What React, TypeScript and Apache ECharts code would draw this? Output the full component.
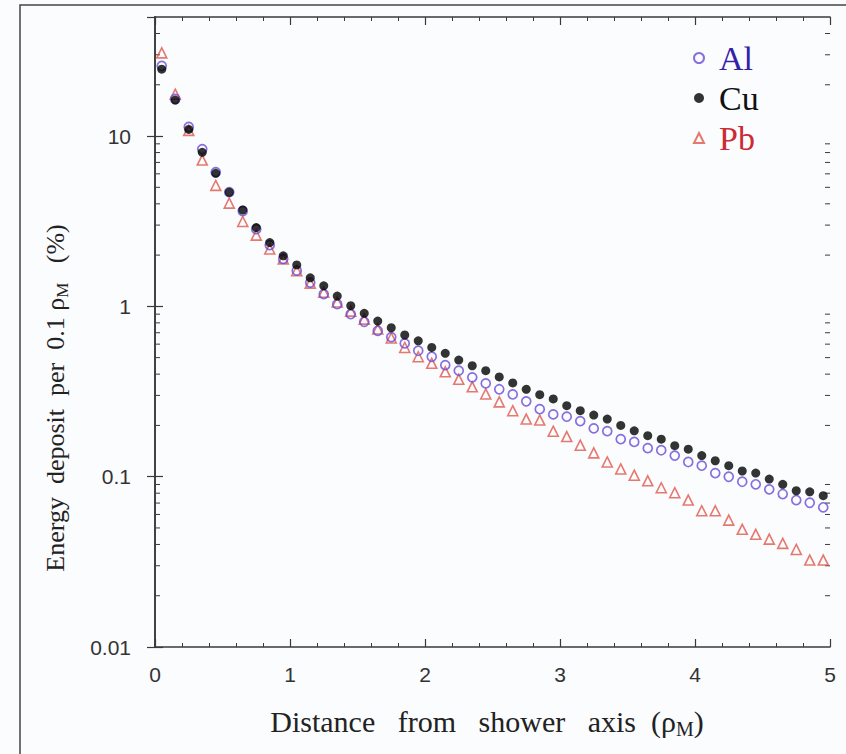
import React, { useEffect, useRef } from "react";
import * as echarts from "echarts";

// Bin centres (units of Moliere radius)
const distance = [
  0.05, 0.15, 0.25, 0.35, 0.45, 0.55, 0.65, 0.75, 0.85, 0.95,
  1.05, 1.15, 1.25, 1.35, 1.45, 1.55, 1.65, 1.75, 1.85, 1.95,
  2.05, 2.15, 2.25, 2.35, 2.45, 2.55, 2.65, 2.75, 2.85, 2.95,
  3.05, 3.15, 3.25, 3.35, 3.45, 3.55, 3.65, 3.75, 3.85, 3.95,
  4.05, 4.15, 4.25, 4.35, 4.45, 4.55, 4.65, 4.75, 4.85, 4.95,
];

const al = [
  25.8, 16.5, 11.3, 8.38, 6.14, 4.69, 3.63, 2.84, 2.29, 1.9,
  1.62, 1.38, 1.18, 1.03, 0.901, 0.812, 0.719, 0.66, 0.606, 0.549,
  0.506, 0.452, 0.419, 0.383, 0.353, 0.326, 0.304, 0.277, 0.249, 0.232,
  0.225, 0.212, 0.192, 0.185, 0.166, 0.16, 0.147, 0.143, 0.133, 0.122,
  0.116, 0.105, 0.0999, 0.0934, 0.0902, 0.0843, 0.0791, 0.0729, 0.0703, 0.0661,
];

const cu = [
  24.7, 16.26, 10.94, 8.02, 6.04, 4.67, 3.68, 2.9, 2.37, 1.98,
  1.75, 1.47, 1.32, 1.15, 1.01, 0.91, 0.82, 0.749, 0.679, 0.628,
  0.574, 0.53, 0.484, 0.448, 0.419, 0.385, 0.355, 0.326, 0.303, 0.286,
  0.261, 0.244, 0.23, 0.218, 0.2, 0.186, 0.174, 0.166, 0.152, 0.145,
  0.133, 0.124, 0.116, 0.108, 0.105, 0.0968, 0.0902, 0.0827, 0.0815, 0.0773,
];

const pb = [
  30.8, 17.6, 10.8, 7.23, 5.13, 4.04, 3.15, 2.62, 2.17, 1.9,
  1.62, 1.37, 1.21, 1.06, 0.938, 0.842, 0.736, 0.652, 0.574, 0.506,
  0.463, 0.413, 0.373, 0.337, 0.306, 0.275, 0.244, 0.218, 0.215, 0.185,
  0.172, 0.153, 0.138, 0.122, 0.111, 0.102, 0.0946, 0.0861, 0.0805, 0.0729,
  0.0631, 0.0631, 0.0556, 0.0491, 0.0459, 0.043, 0.0406, 0.0374, 0.0324, 0.0324,
];

// Minor tick positions of the logarithmic y axis
const yMinorTicks = [
  0.02, 0.03, 0.04, 0.05, 0.06, 0.07, 0.08, 0.09,
  0.2, 0.3, 0.4, 0.5, 0.6, 0.7, 0.8, 0.9,
  2, 3, 4, 5, 6, 7, 8, 9,
  20, 30, 40,
];

const SERIF = "'Liberation Serif', 'Times New Roman', serif";
const SANS = "'Liberation Sans', Arial, sans-serif";
const AXIS = "#3a3a3a";

export default function App() {
  const ref = useRef<HTMLDivElement>(null);

  useEffect(() => {
    if (!ref.current) return;
    const chart = echarts.init(ref.current, undefined, { renderer: "svg" });

    const pts = (vals: number[]) => distance.map((x, i) => [x, vals[i]]);

    const xCommon = {
      type: "value",
      min: 0,
      max: 5,
      interval: 1,
      splitLine: { show: false },
      axisLine: { show: true, lineStyle: { color: AXIS, width: 1.6 } },
      axisTick: { show: true, inside: true, length: 8, lineStyle: { color: AXIS, width: 1.2 } },
      minorTick: { show: true, splitNumber: 5, length: 4, lineStyle: { color: AXIS, width: 1 } },
    };

    const yCommon = {
      type: "log",
      logBase: 10,
      min: 0.01,
      max: 50,
      splitLine: { show: false },
      minorTick: { show: false },
      minorSplitLine: { show: false },
      axisTick: { show: true, inside: true, length: 8, lineStyle: { color: AXIS, width: 1.2 } },
    };

    chart.setOption({
      animation: false,
      backgroundColor: "#fbfcfe",
      grid: { left: 155, right: 16, top: 17, bottom: 107 },
      graphic: [
        {
          type: "rect",
          shape: { x: 20, y: 5, width: 900, height: 900 },
          style: { fill: "none", stroke: "#444", lineWidth: 1.5 },
          silent: true,
        },
        {
          type: "text",
          x: 55,
          y: 398,
          rotation: Math.PI / 2,
          style: {
            text: "Energy  deposit  per  0.1 {r|ρ}{s|M}   (%)",
            fontFamily: SERIF,
            fontSize: 26,
            lineHeight: 32,
            fill: "#222",
            align: "center",
            verticalAlign: "middle",
            rich: {
              r: { fontFamily: SERIF, fontSize: 26, lineHeight: 32, fill: "#222" },
              s: { fontFamily: SERIF, fontSize: 17, lineHeight: 17, verticalAlign: "bottom", fill: "#222" },
            },
          },
        },
        {
          type: "text",
          x: 487,
          y: 721,
          style: {
            text: "Distance   from   shower   axis  ({r|ρ}{s|M})",
            fontFamily: SERIF,
            fontSize: 30,
            lineHeight: 36,
            fill: "#222",
            align: "center",
            verticalAlign: "middle",
            rich: {
              r: { fontFamily: SERIF, fontSize: 30, lineHeight: 36, fill: "#222" },
              s: { fontFamily: SERIF, fontSize: 20, lineHeight: 20, verticalAlign: "bottom", fill: "#222" },
            },
          },
        },
      ],
      legend: {
        orient: "vertical",
        left: 688,
        top: 36,
        itemWidth: 10,
        itemHeight: 10,
        itemGap: 6,
        selectedMode: false,
        textStyle: { fontFamily: SERIF, fontSize: 34, lineHeight: 34, padding: [0, 0, 0, 10] },
        data: [
          { name: "Al", icon: "circle", textStyle: { color: "#3322a8" } },
          { name: "Cu", icon: "circle", textStyle: { color: "#111" } },
          { name: "Pb", icon: "triangle", textStyle: { color: "#cc2a35" } },
        ],
      },
      xAxis: [
        {
          ...xCommon,
          position: "bottom",
          axisLabel: { show: true, margin: 17, fontFamily: SANS, fontSize: 21, color: "#333" },
        },
        {
          ...xCommon,
          position: "top",
          axisLabel: { show: false },
        },
      ],
      yAxis: [
        {
          ...yCommon,
          position: "left",
          axisLine: { show: true, lineStyle: { color: "#666", width: 2 } },
          axisLabel: {
            show: true,
            margin: 24,
            fontFamily: SANS,
            fontSize: 21,
            color: "#333",
            showMaxLabel: false,
            formatter: (v: number) => (v > 20 ? "" : String(Number(v.toPrecision(3)))),
          },
        },
        {
          ...yCommon,
          position: "right",
          axisLine: { show: true, lineStyle: { color: AXIS, width: 1.6 } },
          axisLabel: { show: false },
        },
      ],
      series: [
        {
          name: "Pb",
          type: "scatter",
          data: pts(pb),
          symbol: "triangle",
          symbolSize: 10,
          itemStyle: { color: "rgba(255,255,255,0)", borderColor: "#e0584c", borderWidth: 1.6 },
          z: 3,
        },
        {
          name: "Al",
          type: "scatter",
          data: pts(al),
          symbol: "circle",
          symbolSize: 9,
          itemStyle: { color: "rgba(255,255,255,0)", borderColor: "#6a4cd6", borderWidth: 1.7 },
          z: 4,
        },
        {
          name: "Cu",
          type: "scatter",
          data: pts(cu),
          symbol: "circle",
          symbolSize: 9,
          itemStyle: { color: "#000" },
          z: 5,
        },
        {
          name: "yMinor",
          type: "custom",
          silent: true,
          data: yMinorTicks.map((v) => [0, v]),
          encode: { x: 0, y: 1 },
          renderItem: (_params: any, api: any) => {
            const v = api.value(1);
            const l = api.coord([0, v]);
            const r = api.coord([5, v]);
            return {
              type: "group",
              children: [
                {
                  type: "line",
                  shape: { x1: l[0], y1: l[1], x2: l[0] + 5, y2: l[1] },
                  style: { stroke: AXIS, lineWidth: 1 },
                },
                {
                  type: "line",
                  shape: { x1: r[0], y1: r[1], x2: r[0] - 5, y2: r[1] },
                  style: { stroke: AXIS, lineWidth: 1 },
                },
              ],
            };
          },
          z: 2,
        },
      ],
    });

    return () => chart.dispose();
  }, []);

  return (
    <div
      ref={ref}
      style={{ position: "fixed", left: 0, top: 0, width: 846, height: 754 }}
    />
  );
}
